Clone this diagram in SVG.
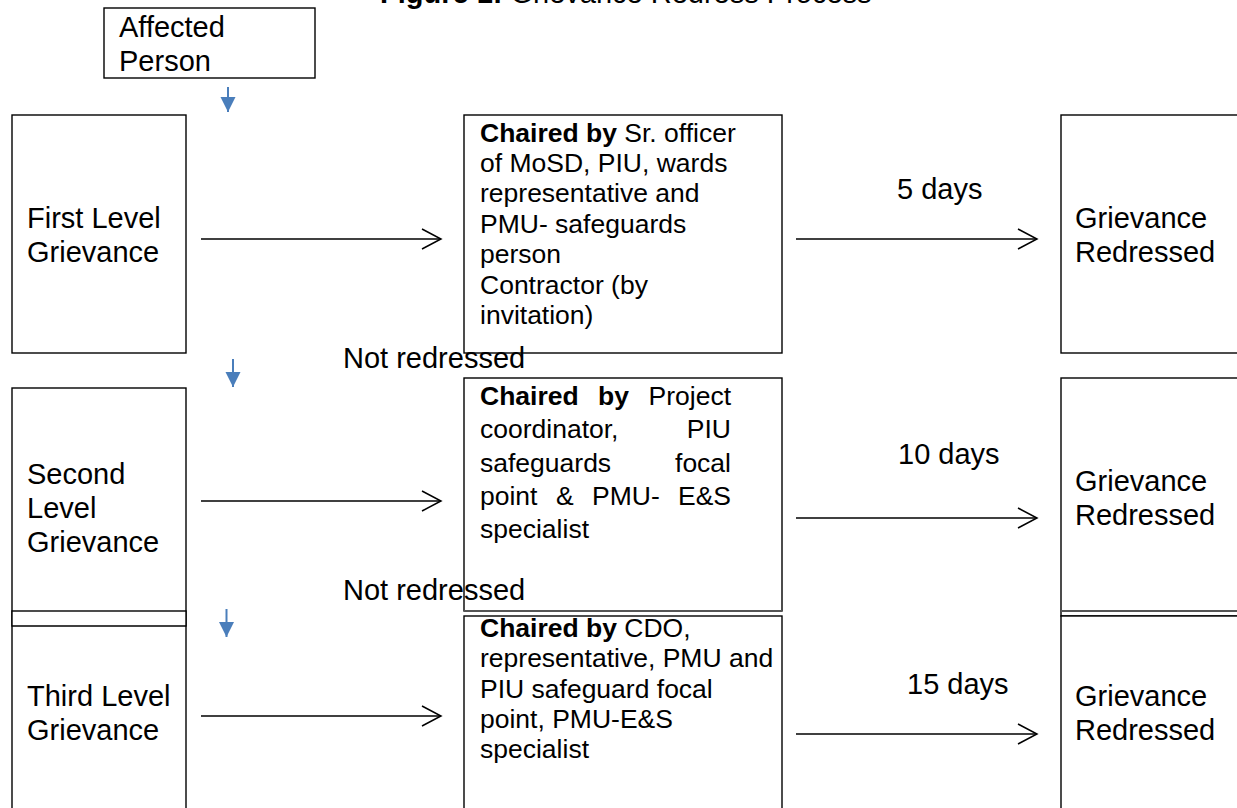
<svg xmlns="http://www.w3.org/2000/svg" width="1237" height="808" viewBox="0 0 1237 808">
<style>
text{font-family:"Liberation Sans",Arial,sans-serif;fill:#000}
.t29{font-size:29px}
.t26{font-size:26.5px}
.b{font-weight:bold}
.box{fill:#fff;stroke:#000;stroke-width:1.4}
.conn{stroke:#000;stroke-width:1.5;fill:none}
.blue{stroke:#4a7ebb;stroke-width:2;fill:none}
</style>
<defs>
<marker id="open" markerUnits="userSpaceOnUse" markerWidth="24" markerHeight="24" viewBox="-21 -12 24 24" refX="0" refY="0" orient="auto">
<path d="M-19,-10 L0,0 L-19,10" fill="none" stroke="#000" stroke-width="1.5"/>
</marker>
<marker id="tri" markerUnits="userSpaceOnUse" markerWidth="16" markerHeight="16" viewBox="-15 -8 16 16" refX="0" refY="0" orient="auto">
<path d="M-15,-7.5 L0,0 L-15,7.5 Z" fill="#4a7ebb"/>
</marker>
</defs>
<rect width="1237" height="808" fill="#fff"/>
<text class="t29" x="380" y="3"><tspan class="b">Figure 1:</tspan> Grievance Redress Process</text>

<g id="affected-person">
<rect class="box" x="104" y="8" width="211" height="70"/>
<text class="t29" x="119" y="37">Affected</text>
<text class="t29" x="119" y="71">Person</text>
</g>

<g id="first-level">
<rect class="box" x="12" y="115" width="174" height="238"/>
<text class="t29" x="27" y="228">First Level</text>
<text class="t29" x="27" y="262">Grievance</text>
</g>
<g id="first-committee">
<rect class="box" x="464" y="115" width="318" height="238"/>
<text class="t26" x="480" y="142"><tspan class="b">Chaired by</tspan> Sr. officer</text>
<text class="t26" x="480" y="172">of MoSD, PIU, wards</text>
<text class="t26" x="480" y="202">representative and</text>
<text class="t26" x="480" y="232.5">PMU- safeguards</text>
<text class="t26" x="480" y="263">person</text>
<text class="t26" x="480" y="293.5">Contractor (by</text>
<text class="t26" x="480" y="324">invitation)</text>
</g>
<g id="first-redressed">
<rect class="box" x="1061" y="115" width="190" height="238"/>
<text class="t29" x="1075" y="228">Grievance</text>
<text class="t29" x="1075" y="262">Redressed</text>
</g>

<g id="second-level">
<rect class="box" x="12" y="388" width="174" height="238"/>
<text class="t29" x="27" y="484">Second</text>
<text class="t29" x="27" y="518">Level</text>
<text class="t29" x="27" y="552">Grievance</text>
</g>
<g id="second-committee">
<rect class="box" x="464" y="378" width="318" height="233"/>
<text class="t26 b" x="480" y="405">Chaired</text>
<text class="t26 b" x="598" y="405">by</text>
<text class="t26" x="731" y="405" text-anchor="end">Project</text>
<text class="t26" x="480" y="438">coordinator,</text>
<text class="t26" x="731" y="438" text-anchor="end">PIU</text>
<text class="t26" x="480" y="471.5">safeguards</text>
<text class="t26" x="731" y="471.5" text-anchor="end">focal</text>
<text class="t26" x="480" y="505">point</text>
<text class="t26" x="556" y="505">&amp;</text>
<text class="t26" x="592" y="505">PMU-</text>
<text class="t26" x="731" y="505" text-anchor="end">E&amp;S</text>
<text class="t26" x="480" y="538">specialist</text>
</g>
<g id="second-redressed">
<rect class="box" x="1061" y="378" width="190" height="238"/>
<text class="t29" x="1075" y="491">Grievance</text>
<text class="t29" x="1075" y="525">Redressed</text>
</g>

<g id="third-level">
<rect class="box" x="12" y="611" width="174" height="220"/>
<line x1="12" y1="626" x2="186" y2="626" stroke="#000" stroke-width="1.4"/>
<text class="t29" x="27" y="706">Third Level</text>
<text class="t29" x="27" y="740">Grievance</text>
</g>
<g id="third-committee">
<rect class="box" x="464" y="616" width="318" height="220"/>
<line x1="464" y1="611" x2="782" y2="611" stroke="#555" stroke-width="2"/>
<text class="t26" x="480" y="637"><tspan class="b">Chaired by</tspan> CDO,</text>
<text class="t26" x="480" y="667">representative, PMU and</text>
<text class="t26" x="480" y="697.5">PIU safeguard focal</text>
<text class="t26" x="480" y="727.5">point, PMU-E&amp;S</text>
<text class="t26" x="480" y="758">specialist</text>
</g>
<g id="third-redressed">
<rect class="box" x="1061" y="616" width="190" height="220"/>
<line x1="1061" y1="611" x2="1237" y2="611" stroke="#555" stroke-width="2"/>
<text class="t29" x="1075" y="706">Grievance</text>
<text class="t29" x="1075" y="740">Redressed</text>
</g>

<g id="connectors">
<line class="blue" x1="228" y1="87" x2="228" y2="112" marker-end="url(#tri)"/>
<line class="blue" x1="233" y1="359" x2="233" y2="387" marker-end="url(#tri)"/>
<line class="blue" x1="226.5" y1="609" x2="226.5" y2="637" marker-end="url(#tri)"/>
<line class="conn" x1="201" y1="239" x2="441" y2="239" marker-end="url(#open)"/>
<line class="conn" x1="796" y1="239" x2="1037" y2="239" marker-end="url(#open)"/>
<line class="conn" x1="201" y1="501" x2="441" y2="501" marker-end="url(#open)"/>
<line class="conn" x1="796" y1="518" x2="1037" y2="518" marker-end="url(#open)"/>
<line class="conn" x1="201" y1="716" x2="441" y2="716" marker-end="url(#open)"/>
<line class="conn" x1="796" y1="734" x2="1037" y2="734" marker-end="url(#open)"/>
<text class="t29" x="897" y="199">5 days</text>
<text class="t29" x="898" y="464">10 days</text>
<text class="t29" x="907" y="694">15 days</text>
<text class="t29" x="343" y="368">Not redressed</text>
<text class="t29" x="343" y="600">Not redressed</text>
</g>
</svg>
